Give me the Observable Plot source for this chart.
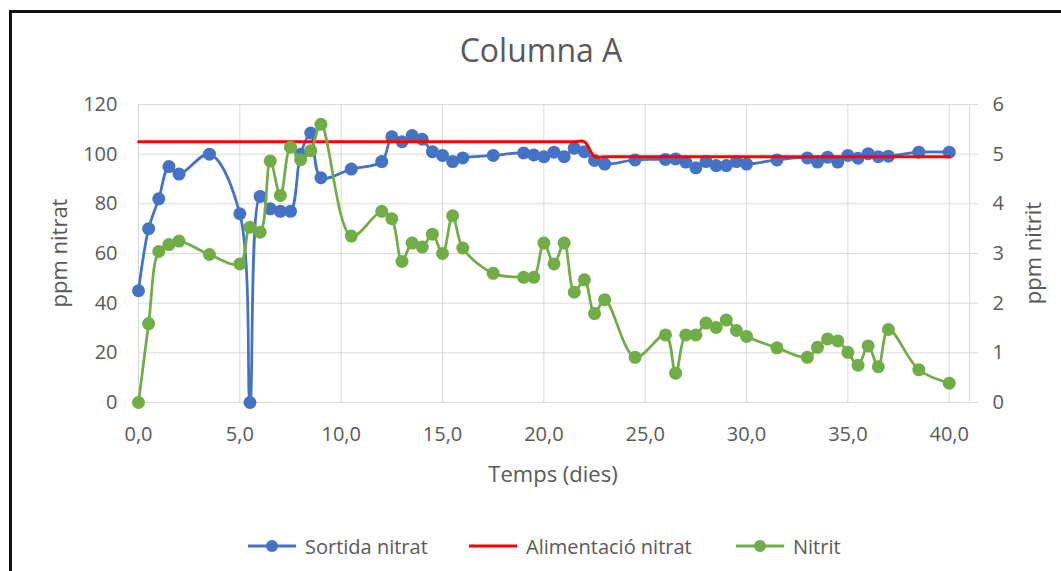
<!DOCTYPE html>
<html>
<head>
<meta charset="utf-8">
<script src="https://cdn.jsdelivr.net/npm/d3@7"></script>
<script src="https://cdn.jsdelivr.net/npm/@observablehq/plot@0.6"></script>
<style>
  html, body { margin: 0; padding: 0; background: #fff; }
  #wrap { position: relative; width: 1061px; height: 571px; overflow: hidden; font-family: "Open Sans", sans-serif; color: #595959; }
  #frame { position: absolute; left: 9px; top: 10px; width: 1100px; height: 600px; border-left: 3px solid #111; border-top: 3px solid #111; box-sizing: border-box; }
  #chart { position: absolute; left: 0; top: 0; }
  .t { position: absolute; white-space: nowrap; }
  #title { left: 0; width: 1082px; top: 28px; text-align: center; font-size: 32px; line-height: 44px; }
  #xlab { left: 0; width: 1106px; top: 458px; text-align: center; font-size: 22px; line-height: 30px; }
  .ylab { font-size: 22px; line-height: 30px; width: 200px; text-align: center; transform: rotate(-90deg); }
  .leg { position: absolute; top: 532px; height: 28px; display: flex; align-items: center; font-size: 20px; }
  .leg svg { margin-right: 9px; }
</style>
</head>
<body>
<div id="wrap">
  <div id="frame"></div>
  <div id="chart"></div>
  <div class="t" id="title">Columna A</div>
  <div class="t" id="xlab">Temps (dies)</div>
  <div class="t ylab" style="left:-42px; top:238px;">ppm nitrat</div>
  <div class="t ylab" style="left:932px; top:238px;">ppm nitrit</div>
  <div id="legend"></div>
</div>
<script>
// Sampling times (days), shared by outlet nitrate and nitrite
const dies = [0, 0.5, 1, 1.5, 2, 3.5, 5, 5.5, 6, 6.5, 7, 7.5, 8, 8.5, 9, 10.5, 12, 12.5, 13, 13.5,
  14, 14.5, 15, 15.5, 16, 17.5, 19, 19.5, 20, 20.5, 21, 21.5, 22, 22.5, 23, 24.5, 26, 26.5, 27, 27.5,
  28, 28.5, 29, 29.5, 30, 31.5, 33, 33.5, 34, 34.5, 35, 35.5, 36, 36.5, 37, 38.5, 40];

// Outlet nitrate (ppm)
const sortidaNitrat = [45, 70, 82, 95, 92, 100, 76, 0, 83, 78, 77, 77, 100, 108.5, 90.5, 94, 97, 107, 105, 107.5,
  106, 101, 99.5, 97, 98.5, 99.5, 100.5, 99.7, 99, 100.8, 99, 102.4, 101, 97.5, 96, 97.7, 97.9, 98.1, 96.8, 94.5,
  97, 95.4, 95.4, 97, 96, 97.7, 98.5, 96.8, 98.8, 96.8, 99.5, 98.4, 100.2, 99, 99.2, 100.8, 100.8];

// Nitrite (ppm, secondary axis)
const nitrit = [0, 1.59, 3.04, 3.18, 3.25, 2.98, 2.79, 3.53, 3.43, 4.86, 4.17, 5.14, 4.89, 5.07, 5.6, 3.35, 3.85, 3.7, 2.84, 3.21,
  3.13, 3.39, 3.0, 3.76, 3.11, 2.6, 2.52, 2.52, 3.21, 2.79, 3.21, 2.22, 2.47, 1.79, 2.07, 0.91, 1.36, 0.59, 1.36, 1.36,
  1.6, 1.51, 1.66, 1.45, 1.33, 1.1, 0.91, 1.11, 1.28, 1.24, 1.01, 0.75, 1.14, 0.72, 1.47, 0.66, 0.39];

// Feed nitrate (ppm)
const alimDies = [0, 21.5, 22, 22.5, 23, 40];
const alimNitrat = [105, 105, 105, 99, 99, 99];

// Axis ticks
const xTicks = [0, 5, 10, 15, 20, 25, 30, 35, 40];
const yTicks = [0, 20, 40, 60, 80, 100, 120];
const y2Ticks = [0, 1, 2, 3, 4, 5, 6];

const blau = "#4472C4", vermell = "#FF0000", verd = "#70AD47", grisReixa = "#d9d9d9", grisText = "#595959";
const ratio = 120 / 6; // nitrite → primary axis units

const sortida = dies.map((d, i) => ({dia: d, v: sortidaNitrat[i]}));
const nitritData = dies.map((d, i) => ({dia: d, v: nitrit[i]}));
const alim = alimDies.map((d, i) => ({dia: d, v: alimNitrat[i]}));

const chart = Plot.plot({
  width: 1061,
  height: 500,
  marginTop: 104,
  marginBottom: 98,
  marginLeft: 138,
  marginRight: 92,
  style: {fontFamily: "'Open Sans', sans-serif", fontSize: "20px", background: "transparent"},
  x: {domain: [0, 41]},
  y: {domain: [0, 120]},
  marks: [
    Plot.gridY(yTicks, {stroke: grisReixa, strokeOpacity: 1, strokeWidth: 1}),
    Plot.gridX(xTicks, {stroke: grisReixa, strokeOpacity: 1, strokeWidth: 1}),
    Plot.ruleX([41], {stroke: grisReixa, strokeWidth: 1}),
    Plot.axisX({ticks: xTicks, tickFormat: d => d.toFixed(1).replace(".", ","), tickSize: 0, tickPadding: 24, fill: grisText, label: null}),
    Plot.axisY({anchor: "left", ticks: yTicks, tickSize: 0, tickPadding: 21, fill: grisText, label: null}),
    Plot.axisY({anchor: "right", ticks: y2Ticks.map(t => t * ratio), tickFormat: d => d / ratio, tickSize: 8, tickPadding: 15, stroke: grisReixa, fill: grisText, label: null}),
    Plot.line(sortida, {x: "dia", y: "v", stroke: blau, strokeWidth: 2.75, curve: "catmull-rom"}),
    Plot.dot(sortida, {x: "dia", y: "v", r: 6.5, fill: blau, stroke: "none"}),
    Plot.line(alim, {x: "dia", y: "v", stroke: vermell, strokeWidth: 3, curve: "catmull-rom"}),
    Plot.line(nitritData, {x: "dia", y: d => d.v * ratio, stroke: verd, strokeWidth: 2.75, curve: "catmull-rom"}),
    Plot.dot(nitritData, {x: "dia", y: d => d.v * ratio, r: 6.5, fill: verd, stroke: "none"})
  ]
});
document.getElementById("chart").appendChild(chart);

// Legend
const llegenda = [
  {nom: "Sortida nitrat", color: blau, punt: true, x: 248},
  {nom: "Alimentació nitrat", color: vermell, punt: false, x: 469},
  {nom: "Nitrit", color: verd, punt: true, x: 736}
];
const leg = document.getElementById("legend");
for (const s of llegenda) {
  const el = document.createElement("div");
  el.className = "leg";
  el.style.left = s.x + "px";
  el.innerHTML = `<svg width="48" height="16"><line x1="0" y1="8" x2="48" y2="8" stroke="${s.color}" stroke-width="3"/>` +
    (s.punt ? `<circle cx="24" cy="8" r="6" fill="${s.color}"/>` : "") + `</svg><span>${s.nom}</span>`;
  leg.appendChild(el);
}
</script>
</body>
</html>
